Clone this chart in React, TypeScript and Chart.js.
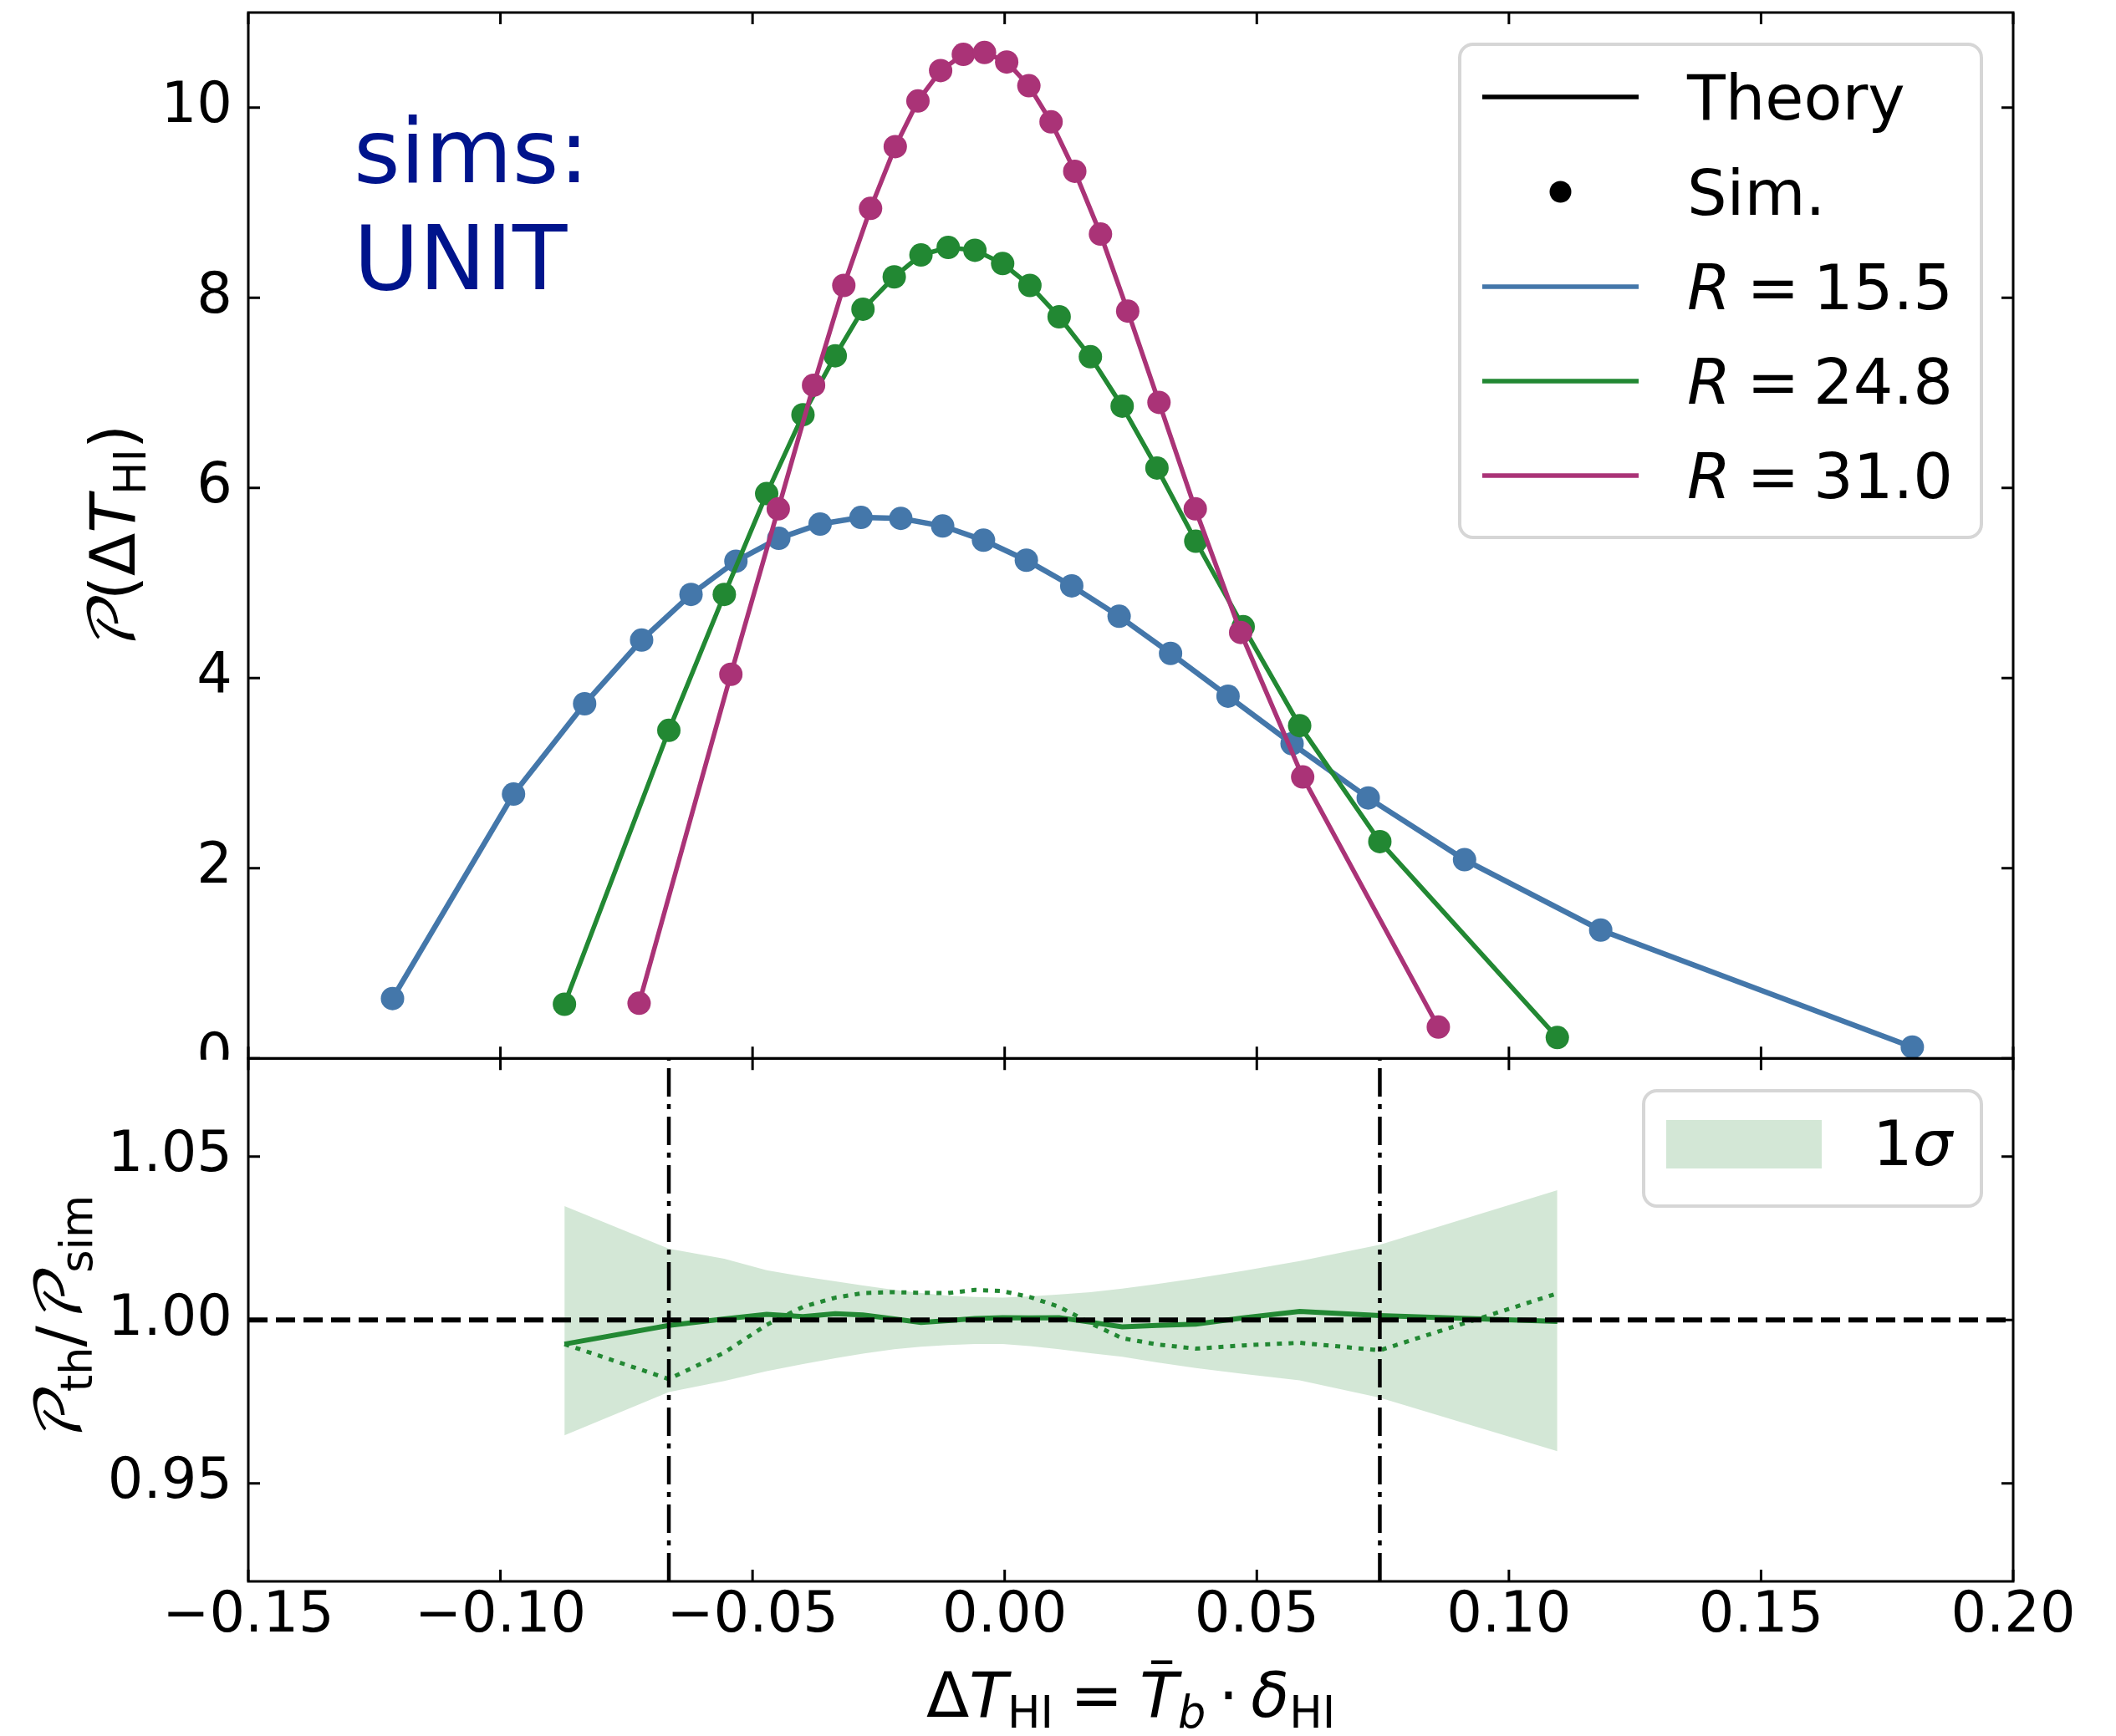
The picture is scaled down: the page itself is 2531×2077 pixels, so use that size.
import React, { useEffect, useRef } from 'react';
import { Chart, registerables } from 'chart.js';

Chart.register(...registerables);

// ---------------- data ----------------
const xTicks = [-0.15, -0.1, -0.05, 0, 0.05, 0.1, 0.15, 0.2];
const topYTicks = [0, 2, 4, 6, 8, 10];
const bottomYTicks = [0.95, 1.0, 1.05];
const seriesNames = ['15.5', '24.8', '31.0'];
const legendTop = ['Theory', 'Sim.'];
const bandLabel = '1σ';

const blueX = [-0.1214, -0.0974, -0.0833, -0.072, -0.0622, -0.0533, -0.0448, -0.0366, -0.0285, -0.0206, -0.0123, -0.0042, 0.0043, 0.0133, 0.0227, 0.0329, 0.0443, 0.057, 0.0721, 0.0912, 0.1182, 0.18];
const blueY = [0.63, 2.78, 3.73, 4.4, 4.88, 5.23, 5.47, 5.62, 5.69, 5.68, 5.6, 5.45, 5.24, 4.97, 4.65, 4.26, 3.81, 3.31, 2.74, 2.09, 1.35, 0.12];

const greenX = [-0.0873, -0.0666, -0.0556, -0.0472, -0.04, -0.0336, -0.0281, -0.0219, -0.0166, -0.0112, -0.0059, -0.0004, 0.005, 0.0108, 0.017, 0.0233, 0.0302, 0.0379, 0.0473, 0.0585, 0.0744, 0.1096];
const greenY = [0.57, 3.45, 4.88, 5.94, 6.77, 7.39, 7.88, 8.22, 8.45, 8.53, 8.5, 8.36, 8.13, 7.8, 7.38, 6.86, 6.21, 5.44, 4.54, 3.5, 2.28, 0.22];

const magentaX = [-0.0725, -0.0543, -0.0449, -0.0379, -0.0319, -0.0266, -0.0217, -0.0172, -0.0127, -0.0082, -0.004, 0.0004, 0.0048, 0.0092, 0.0139, 0.019, 0.0244, 0.0306, 0.0378, 0.0468, 0.0591, 0.086];
const magentaY = [0.58, 4.04, 5.78, 7.08, 8.13, 8.94, 9.59, 10.07, 10.39, 10.56, 10.58, 10.48, 10.23, 9.85, 9.33, 8.67, 7.86, 6.9, 5.78, 4.48, 2.96, 0.33];

// ratio panel (evaluated at the R = 24.8 sample points)
const ratioSolid = [0.9926, 0.9983, 1.0003, 1.0017, 1.001, 1.0019, 1.0015, 1.0003, 0.9992, 0.9998, 1.0004, 1.0007, 1.0006, 1.0007, 0.9993, 0.9979, 0.9983, 0.9987, 1.0006, 1.0026, 1.0013, 0.9995];
const ratioDotted = [0.9926, 0.9819, 0.99, 0.9985, 1.004, 1.0068, 1.0082, 1.0085, 1.0083, 1.0082, 1.0092, 1.0088, 1.007, 1.004, 0.999, 0.9944, 0.9925, 0.9912, 0.9922, 0.993, 0.9907, 1.0081];
const bandUpper = [1.0348, 1.0218, 1.0187, 1.0152, 1.0133, 1.0118, 1.0105, 1.0092, 1.0082, 1.0074, 1.007, 1.0068, 1.0072, 1.0078, 1.0085, 1.0096, 1.011, 1.0127, 1.015, 1.018, 1.023, 1.0397];
const bandLower = [0.9647, 0.9779, 0.9813, 0.9843, 0.9865, 0.9883, 0.9897, 0.991, 0.9918, 0.9923, 0.9926, 0.9926, 0.992, 0.991, 0.9898, 0.9887, 0.987, 0.9853, 0.9835, 0.9815, 0.9762, 0.9598];

const refLineX = [-0.15, 0.2];
const refLineY = [1.0, 1.0];
const vlineX = [-0.0666, 0.0744];

const COLORS = ['#4477AA', '#228833', '#AA3377'];
const BAND_FILL = 'rgba(34,136,51,0.2)';
const TEXT_BLUE = '#00148c';

// ---------------- layout constants ----------------
const W = 2531;
const H = 2077;
const FONT = '"DejaVu Sans", "Liberation Sans", sans-serif';
const CAL_FONT = '"DejaVu Math TeX Gyre", "DejaVu Serif", serif';
const TICK_SIZE = 67;
const LABEL_SIZE = 75;

const pts = (xs: number[], ys: number[]) => xs.map((x, i) => ({ x, y: ys[i] }));

type Seg = { t: string; it?: boolean; sub?: boolean; bar?: boolean; cal?: boolean; gap?: number };

function segFont(s: Seg, size: number) {
  const sz = s.sub ? size * 0.7 : size;
  if (s.cal) return `italic ${sz}px ${CAL_FONT}`;
  return `${s.it ? 'italic ' : ''}${sz}px ${FONT}`;
}

function drawRich(ctx: CanvasRenderingContext2D, segs: Seg[], x: number, y: number, size: number, align: 'left' | 'center', rot = 0) {
  ctx.save();
  ctx.translate(x, y);
  ctx.rotate(rot);
  ctx.textBaseline = 'alphabetic';
  ctx.textAlign = 'left';
  let total = 0;
  for (const s of segs) {
    ctx.font = segFont(s, size);
    total += ctx.measureText(s.t).width + (s.gap || 0) * size;
  }
  let cx = align === 'center' ? -total / 2 : 0;
  for (const s of segs) {
    ctx.font = segFont(s, size);
    const w = ctx.measureText(s.t).width;
    const dy = s.sub ? size * 0.17 : 0;
    ctx.fillText(s.t, cx, dy);
    if (s.bar) {
      ctx.fillRect(cx + w * 0.3, -size * 0.9, w * 0.55, size * 0.06);
    }
    cx += w + (s.gap || 0) * size;
  }
  ctx.restore();
}

const overlayPlugin = {
  id: 'overlay',
  afterDraw(chart: any) {
    const ctx: CanvasRenderingContext2D = chart.ctx;
    const xs = chart.scales.x;
    const yt = chart.scales.yt;
    const yb = chart.scales.yb;
    const L = chart.chartArea.left;
    const R = chart.chartArea.right;
    ctx.save();

    // the "0" label of the upper panel is cut by the lower panel
    ctx.fillStyle = '#ffffff';
    ctx.fillRect(0, yt.bottom + 1.5, L - 3, 45);

    // frames + inward ticks
    ctx.strokeStyle = '#000';
    ctx.lineWidth = 3;
    const TL = 14;
    const panels = [
      { top: yt.top, bottom: yt.bottom, scale: yt, ticks: topYTicks },
      { top: yb.top, bottom: yb.bottom, scale: yb, ticks: bottomYTicks },
    ];
    for (const p of panels) {
      ctx.strokeRect(L, p.top, R - L, p.bottom - p.top);
      ctx.beginPath();
      for (const v of xTicks) {
        const px = xs.getPixelForValue(v);
        ctx.moveTo(px, p.bottom);
        ctx.lineTo(px, p.bottom - TL);
        ctx.moveTo(px, p.top);
        ctx.lineTo(px, p.top + TL);
      }
      for (const v of p.ticks) {
        const py = p.scale.getPixelForValue(v);
        ctx.moveTo(L, py);
        ctx.lineTo(L + TL, py);
        ctx.moveTo(R, py);
        ctx.lineTo(R - TL, py);
      }
      ctx.stroke();
    }

    // annotation text
    ctx.fillStyle = TEXT_BLUE;
    ctx.font = `107px ${FONT}`;
    ctx.textAlign = 'left';
    ctx.textBaseline = 'alphabetic';
    ctx.fillText('sims:', 423, 218);
    ctx.fillText('UNIT', 423, 346);

    // upper legend
    ctx.beginPath();
    ctx.roundRect(1746, 53, 624, 590, 16);
    ctx.fillStyle = 'rgba(255,255,255,0.8)';
    ctx.fill();
    ctx.lineWidth = 4;
    ctx.strokeStyle = '#d6d6d6';
    ctx.stroke();

    const rows = [116, 229.5, 343, 456, 569];
    const hx0 = 1773, hx1 = 1960, tx = 2018;
    const capOff = LABEL_SIZE * 0.729 / 2;
    ctx.lineCap = 'butt';
    // Theory
    ctx.strokeStyle = '#000';
    ctx.lineWidth = 5.5;
    ctx.beginPath();
    ctx.moveTo(hx0, rows[0]);
    ctx.lineTo(hx1, rows[0]);
    ctx.stroke();
    ctx.fillStyle = '#000';
    ctx.font = `${LABEL_SIZE}px ${FONT}`;
    ctx.fillText(legendTop[0], tx, rows[0] + capOff);
    // Sim.
    ctx.beginPath();
    ctx.arc((hx0 + hx1) / 2, rows[1], 13, 0, Math.PI * 2);
    ctx.fill();
    ctx.fillText(legendTop[1], tx, rows[1] + capOff);
    // R = ...
    for (let i = 0; i < seriesNames.length; i++) {
      const y = rows[2 + i];
      ctx.strokeStyle = COLORS[i];
      ctx.lineWidth = 5.5;
      ctx.beginPath();
      ctx.moveTo(hx0, y);
      ctx.lineTo(hx1, y);
      ctx.stroke();
      ctx.fillStyle = '#000';
      drawRich(ctx, [{ t: 'R', it: true, gap: 0.26 }, { t: '=', gap: 0.22 }, { t: seriesNames[i] }], tx, y + capOff, LABEL_SIZE, 'left');
    }

    // lower legend
    ctx.beginPath();
    ctx.roundRect(1966, 1305, 404, 138, 16);
    ctx.fillStyle = 'rgba(255,255,255,0.8)';
    ctx.fill();
    ctx.lineWidth = 4;
    ctx.strokeStyle = '#d6d6d6';
    ctx.stroke();
    ctx.fillStyle = BAND_FILL;
    ctx.fillRect(1993, 1340, 186, 58);
    ctx.fillStyle = '#000';
    drawRich(ctx, [{ t: bandLabel.slice(0, 1) }, { t: bandLabel.slice(1), it: true }], 2240, 1394, LABEL_SIZE, 'left');

    // axis titles
    const cx = (L + R) / 2;
    drawRich(ctx, [
      { t: 'Δ' }, { t: 'T', it: true }, { t: 'HI', sub: true, gap: 0.27 },
      { t: '=', gap: 0.27 }, { t: 'T', it: true, bar: true }, { t: 'b', it: true, sub: true, gap: 0.2 },
      { t: '·', gap: 0.2 }, { t: 'δ', it: true }, { t: 'HI', sub: true },
    ], cx, 2054, LABEL_SIZE, 'center');

    drawRich(ctx, [
      { t: '𝒫', cal: true }, { t: '(' }, { t: 'Δ' }, { t: 'T', it: true }, { t: 'HI', sub: true }, { t: ')' },
    ], 161, (yt.top + yt.bottom) / 2 + 4, LABEL_SIZE, 'center', -Math.PI / 2);

    drawRich(ctx, [
      { t: '𝒫', cal: true }, { t: 'th', sub: true }, { t: '/' }, { t: '𝒫', cal: true }, { t: 'sim', sub: true },
    ], 97, (yb.top + yb.bottom) / 2, LABEL_SIZE, 'center', -Math.PI / 2);

    ctx.restore();
  },
};

const tickFont = { family: FONT, size: TICK_SIZE };

function buildConfig(): any {
  const topSeries = [
    { xs: blueX, ys: blueY, color: COLORS[0], order: 2, width: 6.5 },
    { xs: greenX, ys: greenY, color: COLORS[1], order: 1, width: 5.5 },
    { xs: magentaX, ys: magentaY, color: COLORS[2], order: 0, width: 5.5 },
  ];
  const datasets: any[] = topSeries.map((s, i) => ({
    label: 'R = ' + seriesNames[i],
    data: pts(s.xs, s.ys),
    xAxisID: 'x',
    yAxisID: 'yt',
    borderColor: s.color,
    backgroundColor: s.color,
    borderWidth: s.width,
    pointRadius: 14,
    pointHoverRadius: 14,
    pointBorderWidth: 0,
    pointBackgroundColor: s.color,
    tension: 0,
    fill: false,
    clip: 0,
    order: s.order,
  }));

  datasets.push({
    label: 'band upper',
    data: pts(greenX, bandUpper),
    xAxisID: 'x', yAxisID: 'yb',
    borderWidth: 0, pointRadius: 0, borderColor: 'rgba(0,0,0,0)',
    fill: false, tension: 0, order: 9, clip: 0,
  });
  datasets.push({
    label: 'band lower',
    data: pts(greenX, bandLower),
    xAxisID: 'x', yAxisID: 'yb',
    borderWidth: 0, pointRadius: 0, borderColor: 'rgba(0,0,0,0)',
    backgroundColor: BAND_FILL,
    fill: '-1', tension: 0, order: 8, clip: 0,
  });
  datasets.push({
    label: 'ratio dotted',
    data: pts(greenX, ratioDotted),
    xAxisID: 'x', yAxisID: 'yb',
    borderColor: COLORS[1], borderWidth: 5, borderDash: [6, 8],
    pointRadius: 0, fill: false, tension: 0, order: 7, clip: 0,
  });
  datasets.push({
    label: 'ratio solid',
    data: pts(greenX, ratioSolid),
    xAxisID: 'x', yAxisID: 'yb',
    borderColor: COLORS[1], borderWidth: 6,
    pointRadius: 0, fill: false, tension: 0, order: 6, clip: 0,
  });
  for (const vx of vlineX) {
    datasets.push({
      label: 'vline',
      data: [{ x: vx, y: 0.92 }, { x: vx, y: 1.08 }],
      xAxisID: 'x', yAxisID: 'yb',
      borderColor: '#000', borderWidth: 4.5, borderDash: [34, 9, 6, 9],
      pointRadius: 0, fill: false, order: 4, clip: 0,
    });
  }
  datasets.push({
    label: 'unity',
    data: pts(refLineX, refLineY),
    xAxisID: 'x', yAxisID: 'yb',
    borderColor: '#000', borderWidth: 6, borderDash: [23, 10],
    pointRadius: 0, fill: false, order: 3, clip: 0,
  });

  const fitY = (s: any) => {
    s.width = 297;
    s.paddingTop = 0;
    s.paddingBottom = 0;
  };

  return {
    type: 'line',
    data: { datasets },
    options: {
      animation: false,
      responsive: false,
      maintainAspectRatio: false,
      devicePixelRatio: 1,
      events: [],
      layout: { padding: { left: 0, top: 15, right: W - 2408, bottom: 0 } },
      plugins: { legend: { display: false }, tooltip: { enabled: false } },
      scales: {
        x: {
          type: 'linear',
          position: 'bottom',
          min: -0.15,
          max: 0.2,
          grid: { display: false, drawTicks: false },
          border: { display: false },
          ticks: {
            font: tickFont,
            color: '#000',
            padding: 2,
            autoSkip: false,
            maxRotation: 0,
            callback: (v: number) => (v < -1e-9 ? '\u2212' : '') + Math.abs(v).toFixed(2),
          },
          afterBuildTicks: (s: any) => { s.ticks = xTicks.map((v) => ({ value: v })); },
          afterFit: (s: any) => { s.height = H - 1892; s.paddingLeft = 0; s.paddingRight = 0; },
        },
        yb: {
          type: 'linear',
          position: 'left',
          stack: 'panels',
          stackWeight: 1,
          min: 0.92,
          max: 1.08,
          grid: { display: false, drawTicks: false },
          border: { display: false },
          ticks: { font: tickFont, color: '#000', padding: 19, callback: (v: number) => v.toFixed(2) },
          afterBuildTicks: (s: any) => { s.ticks = bottomYTicks.map((v) => ({ value: v })); },
          afterFit: fitY,
        },
        yt: {
          type: 'linear',
          position: 'left',
          stack: 'panels',
          stackWeight: 2,
          min: 0,
          max: 11,
          grid: { display: false, drawTicks: false },
          border: { display: false },
          ticks: { font: tickFont, color: '#000', padding: 19, callback: (v: number) => String(v) },
          afterBuildTicks: (s: any) => { s.ticks = topYTicks.map((v) => ({ value: v })); },
          afterFit: fitY,
        },
      },
    },
    plugins: [overlayPlugin],
  };
}

export default function App() {
  const ref = useRef<HTMLCanvasElement>(null);
  useEffect(() => {
    document.body.style.margin = '0';
    const chart = new Chart(ref.current as HTMLCanvasElement, buildConfig());
    return () => chart.destroy();
  }, []);
  return (
    <div style={{ position: 'absolute', left: 0, top: 0, width: W, height: H, background: '#ffffff' }}>
      <canvas ref={ref} width={W} height={H} style={{ width: W, height: H, display: 'block' }} />
    </div>
  );
}
